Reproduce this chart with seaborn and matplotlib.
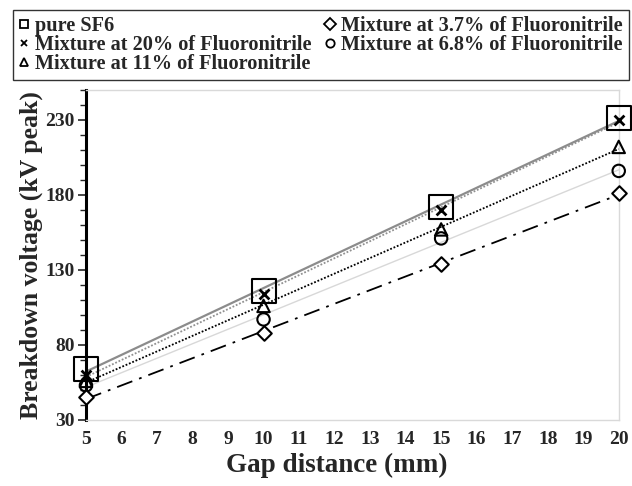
import numpy as np
import pandas as pd
import matplotlib.pyplot as plt
import seaborn as sns
from matplotlib.lines import Line2D
import matplotlib.ticker as mticker

# Data
gap = [5, 10, 15, 20]
sf6 = [64, 116, 172, 231]
mix20 = [60, 114, 170, 230]
mix11 = [56, 106, 157, 212]
mix68 = [53, 97, 151, 196]
mix37 = [45, 88, 134, 181]

series_names = ['pure SF6', 'Mixture at 20% of Fluoronitrile', 'Mixture at 11% of Fluoronitrile',
                'Mixture at 6.8% of Fluoronitrile', 'Mixture at 3.7% of Fluoronitrile']

sns.set_style('white')
plt.rcParams['font.family'] = ['Liberation Serif', 'DejaVu Serif']

fig = plt.figure(figsize=(6.32, 4.86), dpi=100)
ax = fig.add_axes([0.136, 0.136, 0.843, 0.679])

# series: values, marker, marker size, trendline style
styles = [
    (sf6, 's', 300, dict(color='#8c8c8c', lw=1.6, ls='-')),
    (mix20, 'x', 50, dict(color='#909090', lw=1.3, ls=(0, (1, 1)))),
    (mix11, '^', 80, dict(color='black', lw=1.3, ls=(0, (1, 1)))),
    (mix68, 'o', 80, dict(color='#d8d8d8', lw=1.0, ls='-')),
    (mix37, 'D', 55, dict(color='black', lw=1.3, ls=(0, (9, 4, 1.5, 4)))),
]

for vals, mk, sz, lkw in styles:
    df = pd.DataFrame({'gap': gap, 'v': vals})
    # linear trendline
    sns.regplot(data=df, x='gap', y='v', ax=ax, scatter=False, ci=None, line_kws=lkw)

for vals, mk, sz, lkw in styles:
    df = pd.DataFrame({'gap': gap, 'v': vals})
    if mk == 'x':
        sns.scatterplot(data=df, x='gap', y='v', ax=ax, marker='x', s=sz, color='black',
                        linewidth=2, clip_on=False, zorder=5)
    else:
        ax.scatter(df['gap'], df['v'], marker=mk, s=sz, facecolors='white' if mk == 'D' else 'none',
                   edgecolors='black', linewidths=1.5, clip_on=False, zorder=4)

ax.set_xlim(5, 20)
ax.set_ylim(30, 250)
ax.set_xticks(range(5, 21))
ax.set_yticks([30, 80, 130, 180, 230])
ax.yaxis.set_minor_locator(mticker.MultipleLocator(10))

for lab in ax.get_xticklabels() + ax.get_yticklabels():
    lab.set_fontweight('bold')
    lab.set_fontsize(14)

ax.tick_params(axis='y', which='major', direction='out', length=6, width=1.2, left=True, pad=2)
ax.tick_params(axis='y', which='minor', direction='out', length=4, width=1.0, left=True)
ax.tick_params(axis='x', length=0, pad=8)

ax.spines['left'].set_linewidth(2.2)
ax.spines['left'].set_color('black')
for s in ['top', 'right', 'bottom']:
    ax.spines[s].set_color('#d9d9d9')
    ax.spines[s].set_linewidth(1)

ax.set_xlabel('Gap distance (mm)', fontsize=19.5, fontweight='bold', labelpad=2)
ax.xaxis.set_label_coords(0.47, -0.1)
ax.set_ylabel('Breakdown voltage (kV peak)', fontsize=18.5, fontweight='bold', labelpad=2)

# legend with marker-only handles
markers = ['s', 'x', '^', 'o', 'D']
handles = [Line2D([], [], ls='none', marker=m, markersize=6 if m != 'x' else 5,
                  markerfacecolor='none', markeredgecolor='black', markeredgewidth=1.3,
                  color='black') for m in markers]
order = [0, 1, 2, 4, 3]
fig.legend([handles[i] for i in order], [series_names[i] for i in order],
           loc='upper left', bbox_to_anchor=(13 / 632, 1 - 85 / 486, 616 / 632, 75 / 486),
           mode='expand', ncol=2, frameon=True,
           prop={'weight': 'bold', 'size': 14.6}, handlelength=0.5, handletextpad=0.3,
           columnspacing=0.6, labelspacing=-0.05, borderpad=0.3, borderaxespad=0,
           fancybox=False, edgecolor='black')

fig.savefig('out.png', dpi=100)
